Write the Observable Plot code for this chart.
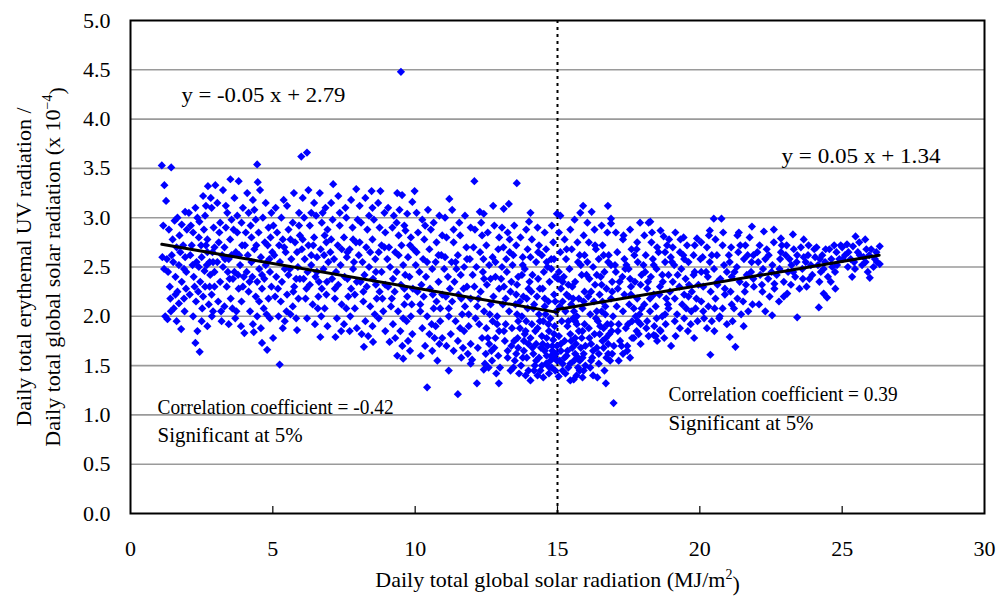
<!DOCTYPE html>
<html>
<head>
<meta charset="utf-8">
<script src="https://cdn.jsdelivr.net/npm/d3@7"></script>
<script src="https://cdn.jsdelivr.net/npm/@observablehq/plot@0.6"></script>
<style>
  html, body { margin: 0; padding: 0; background: #fff; }
</style>
</head>
<body>
<div id="chart"></div>
<script>
// ---- Data ----
const xTicks = [0, 5, 10, 15, 20, 25, 30];
const yTicks = [0, 0.5, 1, 1.5, 2, 2.5, 3, 3.5, 4, 4.5, 5];

const pointsA = [ // x 1 - 5
[1.10,3.53],[1.43,3.51],[1.19,3.33],[1.25,3.17],[1.12,2.60],[1.18,2.48],[1.30,1.97],[1.22,2.00],[1.40,2.18],[1.70,2.13],[1.90,2.05],[1.78,1.87],[1.55,2.97],[1.65,3.00],[1.80,2.93],[1.92,3.06],[1.35,2.88],[1.48,2.78],[1.62,2.70],[1.85,2.72],[1.50,2.55],[1.70,2.52],[1.92,2.60],[1.58,2.40],[1.80,2.35],[1.96,2.45],[1.38,2.30],[1.65,2.25],[1.45,2.62],[1.28,2.58],[1.75,2.65],[1.95,2.28],[1.52,2.08],[1.88,2.18],
[2.05,3.05],[2.28,3.10],[2.42,2.96],[2.55,3.22],[2.72,3.32],[2.98,3.33],[2.82,3.20],[2.62,3.02],[2.85,3.10],[2.20,2.85],[2.40,2.80],[2.70,2.78],[2.92,2.90],[2.10,2.62],[2.32,2.55],[2.50,2.60],[2.70,2.65],[2.90,2.55],[2.22,2.40],[2.45,2.35],[2.60,2.46],[2.80,2.42],[2.95,2.30],[2.08,2.22],[2.30,2.15],[2.55,2.20],[2.75,2.12],[2.90,2.05],[2.20,2.00],[2.50,1.95],[2.70,1.90],[2.86,2.00],[2.35,1.85],[2.65,2.72],[2.15,2.72],[2.28,1.73],[2.43,1.64],[2.40,2.50],[2.58,2.88],[2.78,2.55],[2.95,2.70],[2.12,2.92],[2.38,2.25],[2.62,2.30],[2.85,2.22],
[3.05,3.15],[3.25,3.28],[3.40,3.05],[3.51,3.39],[3.80,3.37],[3.65,3.20],[3.95,3.10],[3.15,2.95],[3.35,2.90],[3.55,2.98],[3.75,2.85],[3.90,2.95],[3.10,2.75],[3.30,2.70],[3.50,2.78],[3.70,2.65],[3.92,2.72],[3.05,2.55],[3.25,2.50],[3.45,2.58],[3.65,2.45],[3.85,2.52],[3.15,2.35],[3.38,2.30],[3.60,2.38],[3.80,2.28],[3.98,2.40],[3.08,2.15],[3.30,2.10],[3.52,2.18],[3.72,2.05],[3.90,2.15],[3.20,1.95],[3.45,1.92],[3.68,1.98],[3.88,1.90],[3.55,2.62],[3.22,2.62],[3.78,2.42],[3.42,2.45],
[4.00,1.83],[4.33,1.84],[4.62,1.73],[4.80,1.66],[4.45,3.54],[4.47,3.36],[4.10,3.25],[4.30,3.18],[4.55,3.28],[4.75,3.15],[4.95,3.05],[4.15,3.05],[4.40,2.98],[4.65,3.00],[4.85,2.90],[4.05,2.85],[4.25,2.80],[4.50,2.85],[4.72,2.75],[4.92,2.80],[4.12,2.62],[4.35,2.68],[4.58,2.60],[4.80,2.55],[4.98,2.65],[4.08,2.45],[4.28,2.40],[4.52,2.48],[4.70,2.38],[4.90,2.45],[4.15,2.25],[4.40,2.20],[4.62,2.28],[4.85,2.18],[4.20,2.05],[4.45,2.00],[4.68,2.08],[4.90,1.98],[4.30,1.92],[4.58,1.88],[4.25,2.55],[4.75,2.52],[4.45,2.35],[4.95,2.30]
];

const pointsB = [ // x 5 - 10
[5.24,1.51],[5.01,1.78],[5.85,1.86],[5.74,3.25],[6.00,3.62],[6.20,3.66],[6.67,1.79],[5.10,3.10],[5.30,3.00],[5.50,3.12],[5.70,2.95],[5.92,3.05],[5.15,2.85],[5.35,2.78],[5.55,2.88],[5.78,2.75],[5.95,2.82],[5.05,2.62],[5.25,2.55],[5.45,2.65],[5.65,2.58],[5.88,2.50],[5.12,2.40],[5.32,2.35],[5.55,2.42],[5.75,2.30],[5.95,2.38],[5.08,2.20],[5.28,2.15],[5.50,2.22],[5.70,2.10],[5.90,2.18],[5.20,2.00],[5.42,1.95],[5.62,2.02],[5.82,1.98],[5.35,1.88],[5.60,2.48],[5.40,2.70],[5.85,2.65],
[6.05,3.20],[6.25,3.28],[6.45,3.15],[6.65,3.25],[6.85,3.10],[6.10,3.00],[6.30,2.92],[6.52,3.02],[6.72,2.95],[6.92,2.88],[6.05,2.78],[6.25,2.72],[6.45,2.80],[6.68,2.68],[6.88,2.75],[6.12,2.58],[6.35,2.52],[6.55,2.60],[6.78,2.48],[6.95,2.55],[6.08,2.38],[6.30,2.32],[6.50,2.40],[6.72,2.28],[6.90,2.35],[6.15,2.18],[6.40,2.12],[6.60,2.20],[6.82,2.08],[6.20,1.98],[6.48,1.92],[6.70,2.00],[6.92,1.90],[6.35,2.62],[6.80,2.62],[6.55,2.45],
[7.12,3.34],[7.20,1.79],[7.93,3.29],[7.05,3.15],[7.30,3.22],[7.55,3.10],[7.75,3.18],[7.10,2.98],[7.35,2.92],[7.58,3.00],[7.80,2.90],[7.98,2.98],[7.05,2.78],[7.28,2.72],[7.50,2.80],[7.70,2.68],[7.92,2.75],[7.15,2.58],[7.38,2.52],[7.60,2.60],[7.82,2.48],[7.08,2.38],[7.30,2.32],[7.52,2.40],[7.75,2.28],[7.95,2.35],[7.18,2.18],[7.42,2.12],[7.65,2.20],[7.88,2.08],[7.25,1.98],[7.50,1.92],[7.72,2.00],[7.95,1.88],[7.40,1.85],[7.62,2.65],[7.85,2.55],
[8.47,3.27],[8.78,3.27],[8.20,1.69],[8.52,1.74],[8.05,3.12],[8.25,3.20],[8.50,3.10],[8.70,3.15],[8.92,3.05],[8.10,2.95],[8.32,2.88],[8.55,2.98],[8.75,2.90],[8.95,2.85],[8.05,2.75],[8.28,2.70],[8.50,2.78],[8.72,2.65],[8.92,2.70],[8.15,2.55],[8.38,2.50],[8.60,2.58],[8.82,2.45],[8.08,2.35],[8.30,2.30],[8.52,2.38],[8.75,2.25],[8.95,2.32],[8.18,2.15],[8.42,2.10],[8.65,2.18],[8.88,2.05],[8.25,1.95],[8.50,1.90],[8.72,1.98],[8.95,1.85],[8.35,1.80],[8.62,2.45],
[9.37,3.25],[9.54,3.23],[9.90,3.16],[9.98,3.27],[9.72,3.04],[9.66,2.87],[9.50,4.48],[9.10,1.74],[9.37,1.60],[9.58,1.57],[9.05,3.10],[9.25,3.02],[9.45,3.08],[9.20,2.90],[9.42,2.82],[9.62,2.92],[9.85,2.80],[9.08,2.70],[9.30,2.65],[9.52,2.72],[9.75,2.60],[9.95,2.68],[9.12,2.50],[9.35,2.45],[9.58,2.52],[9.80,2.40],[9.05,2.30],[9.28,2.25],[9.50,2.32],[9.72,2.20],[9.92,2.28],[9.15,2.10],[9.40,2.05],[9.62,2.12],[9.85,2.00],[9.22,1.92],[9.48,1.85],[9.70,1.95],[9.90,1.82],[9.30,1.78],[9.55,1.70],[9.82,1.65],[9.65,2.42]
];

const pointsC = [ // x 10 - 15
[10.42,1.28],[10.05,3.05],[10.25,2.98],[10.45,3.08],[10.65,2.95],[10.85,3.02],[10.10,2.85],[10.32,2.78],[10.55,2.88],[10.75,2.75],[10.95,2.82],[10.05,2.65],[10.28,2.58],[10.50,2.68],[10.72,2.55],[10.92,2.62],[10.15,2.45],[10.38,2.40],[10.60,2.48],[10.82,2.35],[10.08,2.25],[10.30,2.20],[10.52,2.28],[10.75,2.15],[10.95,2.22],[10.18,2.05],[10.42,2.00],[10.65,2.08],[10.88,1.95],[10.25,1.88],[10.50,1.82],[10.72,1.90],[10.95,1.78],[10.35,1.70],[10.60,1.65],[10.85,1.72],[10.20,1.60],[10.78,1.55],
[11.18,1.45],[11.50,1.21],[11.20,3.19],[11.05,3.00],[11.30,3.08],[11.55,2.95],[11.75,3.02],[11.95,2.90],[11.10,2.80],[11.35,2.75],[11.58,2.82],[11.80,2.70],[11.05,2.60],[11.28,2.55],[11.50,2.62],[11.72,2.50],[11.92,2.58],[11.15,2.40],[11.38,2.35],[11.60,2.42],[11.82,2.30],[11.08,2.20],[11.30,2.15],[11.52,2.22],[11.75,2.10],[11.95,2.18],[11.18,2.00],[11.42,1.95],[11.65,2.02],[11.88,1.90],[11.25,1.82],[11.50,1.75],[11.72,1.85],[11.95,1.72],[11.35,1.65],[11.62,1.58],[11.85,1.62],[11.10,1.70],[11.45,2.48],[11.70,2.28],
[12.08,3.37],[12.17,1.32],[12.41,1.46],[12.00,1.56],[12.27,3.06],[12.41,3.04],[12.74,3.12],[12.10,2.88],[12.32,2.95],[12.55,2.85],[12.78,2.92],[12.95,2.80],[12.05,2.70],[12.28,2.65],[12.50,2.72],[12.72,2.60],[12.92,2.68],[12.15,2.50],[12.38,2.45],[12.60,2.52],[12.82,2.40],[12.08,2.30],[12.30,2.25],[12.52,2.32],[12.75,2.20],[12.95,2.28],[12.18,2.10],[12.42,2.05],[12.65,2.12],[12.88,2.00],[12.25,1.92],[12.50,1.88],[12.72,1.95],[12.95,1.85],[12.35,1.78],[12.60,1.72],[12.82,1.78],[12.20,1.68],[12.48,1.62],[12.70,1.55],[12.92,1.60],[12.58,1.48],[12.85,1.42],[12.40,2.58],[12.65,2.38],
[13.11,3.09],[13.29,3.14],[13.57,3.35],[12.94,1.32],[14.05,1.35],[14.00,2.96],[13.05,2.90],[13.25,2.85],[13.48,2.92],[13.70,2.80],[13.90,2.88],[13.10,2.70],[13.32,2.65],[13.55,2.72],[13.78,2.60],[13.95,2.68],[13.05,2.50],[13.22,2.45],[13.42,2.52],[13.62,2.40],[13.85,2.48],[13.12,2.30],[13.35,2.25],[13.58,2.32],[13.80,2.20],[13.98,2.28],[13.08,2.12],[13.30,2.05],[13.52,2.12],[13.75,2.00],[13.95,2.08],[13.18,1.92],[13.40,1.88],[13.62,1.95],[13.85,1.82],[13.15,1.75],[13.38,1.70],[13.60,1.78],[13.82,1.65],[13.98,1.72],[13.25,1.58],[13.50,1.55],[13.72,1.50],[13.92,1.58],[13.35,1.45],[13.65,1.42],[13.88,1.40],[13.45,2.62],[13.68,2.15],[13.20,2.58],[13.90,1.95],[13.55,1.62],[13.75,2.42],
[14.05,3.05],[14.30,2.90],[14.55,2.85],[14.80,2.92],[14.98,3.04],[14.10,2.78],[14.35,2.72],[14.60,2.68],[14.85,2.75],[14.05,2.60],[14.25,2.55],[14.45,2.62],[14.65,2.50],[14.88,2.58],[14.12,2.42],[14.32,2.38],[14.52,2.45],[14.72,2.35],[14.92,2.40],[14.08,2.25],[14.28,2.20],[14.48,2.28],[14.68,2.15],[14.88,2.22],[14.15,2.08],[14.35,2.02],[14.55,2.10],[14.75,1.98],[14.95,2.05],[14.10,1.92],[14.30,1.88],[14.50,1.95],[14.70,1.85],[14.90,1.90],[14.05,1.78],[14.25,1.72],[14.45,1.80],[14.65,1.70],[14.85,1.76],[14.15,1.62],[14.35,1.58],[14.55,1.65],[14.75,1.55],[14.95,1.62],[14.20,1.50],[14.40,1.45],[14.60,1.52],[14.80,1.48],[14.98,1.55],[14.30,1.40],[14.70,1.42],[14.50,1.38],[14.62,2.55],[14.42,1.68],[14.82,1.65],[14.22,1.85],[14.78,2.48]
];

const pointsD = [ // x 15 - 20
[15.10,3.02],[15.04,1.39],[15.57,1.36],[15.67,1.40],[16.25,1.40],[16.97,1.12],[15.80,3.05],[15.90,3.12],[16.20,3.06],[15.60,2.98],[16.77,3.12],[16.88,2.99],[16.88,2.94],[15.05,2.85],[15.25,2.78],[15.45,2.88],[15.70,2.75],[15.92,2.82],[15.10,2.65],[15.30,2.58],[15.50,2.68],[15.72,2.55],[15.95,2.62],[15.05,2.45],[15.22,2.40],[15.42,2.48],[15.62,2.35],[15.85,2.42],[15.12,2.28],[15.32,2.22],[15.52,2.30],[15.75,2.18],[15.95,2.25],[15.08,2.10],[15.28,2.05],[15.48,2.12],[15.68,2.00],[15.88,2.08],[15.15,1.95],[15.35,1.90],[15.55,1.98],[15.75,1.85],[15.95,1.92],[15.05,1.80],[15.25,1.75],[15.45,1.82],[15.65,1.72],[15.85,1.78],[15.12,1.65],[15.32,1.60],[15.52,1.68],[15.72,1.58],[15.92,1.62],[15.18,1.52],[15.38,1.48],[15.58,1.55],[15.78,1.45],[15.98,1.50],[15.28,1.42],[15.45,1.35],[15.88,1.38],[15.40,2.20],[15.62,1.95],[15.82,2.52],[15.18,2.35],
[16.05,2.95],[16.30,2.88],[16.55,2.92],[16.75,2.85],[16.10,2.75],[16.35,2.68],[16.58,2.72],[16.80,2.62],[16.05,2.55],[16.25,2.50],[16.45,2.58],[16.65,2.45],[16.88,2.52],[16.12,2.38],[16.32,2.32],[16.52,2.40],[16.72,2.28],[16.92,2.35],[16.08,2.20],[16.28,2.15],[16.48,2.22],[16.68,2.10],[16.88,2.18],[16.15,2.02],[16.35,1.98],[16.55,2.05],[16.75,1.92],[16.95,2.00],[16.10,1.88],[16.30,1.82],[16.50,1.90],[16.70,1.78],[16.90,1.85],[16.18,1.72],[16.38,1.68],[16.58,1.75],[16.78,1.62],[16.98,1.70],[16.22,1.58],[16.45,1.52],[16.65,1.45],[16.85,1.55],[16.15,1.48],[16.70,1.32],[16.40,1.38],[16.62,2.62],[16.42,1.95],
[17.90,2.95],[18.20,2.95],[18.26,2.96],[17.05,2.85],[17.30,2.78],[17.55,2.88],[17.80,2.75],[17.10,2.65],[17.35,2.58],[17.60,2.68],[17.82,2.55],[17.05,2.45],[17.28,2.40],[17.50,2.48],[17.72,2.35],[17.95,2.42],[17.12,2.28],[17.35,2.22],[17.58,2.30],[17.80,2.18],[17.08,2.10],[17.30,2.05],[17.52,2.12],[17.75,2.00],[17.95,2.08],[17.15,1.92],[17.40,1.88],[17.62,1.95],[17.85,1.82],[17.20,1.75],[17.45,1.70],[17.68,1.78],[17.92,1.72],[17.30,1.62],[17.55,1.58],[17.15,1.55],[17.70,2.62],[17.42,2.52],
[18.38,1.81],[18.60,1.86],[18.99,1.70],[18.62,2.87],[18.73,2.81],[18.05,2.82],[18.30,2.75],[18.50,2.70],[18.85,2.72],[18.10,2.62],[18.35,2.58],[18.55,2.65],[18.78,2.55],[18.98,2.60],[18.08,2.45],[18.28,2.40],[18.48,2.48],[18.70,2.35],[18.90,2.42],[18.15,2.28],[18.38,2.22],[18.60,2.30],[18.82,2.18],[18.05,2.12],[18.25,2.05],[18.45,2.10],[18.68,2.00],[18.90,2.08],[18.15,1.95],[18.40,1.90],[18.80,1.92],[18.20,1.80],[18.50,1.75],[18.75,1.78],
[19.14,2.85],[19.43,2.80],[19.90,2.79],[19.05,2.70],[19.30,2.65],[19.55,2.72],[19.78,2.62],[19.10,2.52],[19.35,2.48],[19.60,2.55],[19.82,2.45],[19.05,2.35],[19.28,2.30],[19.50,2.38],[19.72,2.25],[19.95,2.32],[19.12,2.18],[19.38,2.12],[19.60,2.20],[19.85,2.08],[19.20,2.02],[19.45,1.98],[19.70,2.05],[19.92,1.95],[19.30,1.88],[19.58,1.85],[19.15,1.80],[19.80,1.78],[19.45,2.58]
];

const pointsE = [ // x 20 - 26.5
[20.49,2.99],[20.76,2.99],[20.35,2.87],[20.37,1.61],[20.51,1.85],[20.05,2.75],[20.25,2.70],[20.55,2.78],[20.80,2.72],[20.10,2.60],[20.35,2.55],[20.60,2.62],[20.85,2.52],[20.05,2.45],[20.28,2.40],[20.50,2.48],[20.72,2.38],[20.95,2.45],[20.12,2.30],[20.38,2.25],[20.62,2.32],[20.88,2.22],[20.05,2.15],[20.30,2.10],[20.55,2.18],[20.80,2.08],[20.15,1.98],[20.42,1.95],[20.70,2.00],[20.95,1.92],[20.25,1.88],
[21.05,1.79],[21.25,1.69],[21.54,1.90],[21.83,2.91],[21.37,2.85],[21.75,2.80],[22.25,2.86],[22.60,2.88],[22.85,2.79],[21.10,2.70],[21.35,2.65],[21.60,2.72],[21.88,2.62],[21.05,2.55],[21.30,2.50],[21.55,2.58],[21.80,2.45],[21.12,2.40],[21.40,2.35],[21.65,2.42],[21.90,2.30],[21.08,2.25],[21.32,2.18],[21.58,2.25],[21.85,2.12],[21.20,2.08],[21.45,2.02],[21.70,2.05],[21.15,1.95],
[22.30,2.05],[22.54,2.01],[22.62,2.33],[22.95,2.20],[22.10,2.72],[22.35,2.68],[22.60,2.75],[22.85,2.65],[22.05,2.55],[22.30,2.58],[22.55,2.52],[22.80,2.48],[22.12,2.42],[22.40,2.38],[22.70,2.42],[22.95,2.35],[22.20,2.25],[22.45,2.20],[22.78,2.15],[22.08,2.12],
[23.07,2.23],[23.27,2.83],[23.42,1.99],[23.05,2.72],[23.30,2.68],[23.55,2.70],[23.80,2.62],[23.15,2.58],[23.40,2.55],[23.65,2.60],[23.90,2.52],[23.10,2.45],[23.35,2.40],[23.60,2.48],[23.85,2.38],[23.20,2.32],[23.50,2.28],[23.75,2.30],[23.95,2.42],[23.65,2.78],
[24.10,2.70],[24.18,2.09],[24.35,2.23],[24.47,2.19],[24.76,2.28],[24.05,2.60],[24.30,2.62],[24.55,2.68],[24.80,2.65],[24.15,2.52],[24.40,2.55],[24.65,2.50],[24.90,2.58],[24.25,2.45],[24.50,2.40],[24.75,2.45],[24.95,2.72],[24.60,2.35],[24.20,2.35],
[25.00,2.70],[25.17,2.73],[25.38,2.71],[25.47,2.81],[25.81,2.78],[25.97,2.39],[26.32,2.71],[26.32,2.53],[25.10,2.62],[25.30,2.58],[25.55,2.65],[25.75,2.60],[25.95,2.62],[26.15,2.58],[25.20,2.50],[25.45,2.48],[25.70,2.52],[25.90,2.45],[26.10,2.50],[25.60,2.75],[25.35,2.40],[26.20,2.65],[25.85,2.68]
];

const pointsF = [ // extra points in the crowded cloud, x 1 - 10
[1.15,2.92],[1.32,2.45],[1.58,2.22],[1.72,2.82],[1.88,2.48],[1.42,2.05],[1.62,1.95],[1.98,2.88],
[2.18,2.52],[2.48,2.72],[2.68,2.52],[2.88,2.65],[2.25,2.30],[2.52,2.08],[2.78,2.30],[2.35,3.00],[2.65,3.12],[2.95,2.45],
[3.12,2.85],[3.32,2.58],[3.48,2.38],[3.62,2.88],[3.82,2.62],[3.95,2.30],[3.18,2.05],[3.58,2.08],[3.75,3.02],[3.35,3.12],
[4.02,2.72],[4.22,2.92],[4.42,2.72],[4.62,2.42],[4.82,2.72],[4.18,2.35],[4.52,2.15],[4.78,2.02],[4.35,3.08],[4.88,2.58],
[5.02,2.92],[5.22,2.72],[5.42,2.48],[5.62,2.78],[5.82,2.38],[5.18,2.28],[5.48,2.05],[5.72,2.25],[5.38,3.18],[5.92,2.92],
[6.02,2.68],[6.22,2.45],[6.42,2.72],[6.62,2.35],[6.82,2.82],[6.18,2.28],[6.58,2.08],[6.88,2.22],[6.35,3.05],[6.75,3.05],
[7.02,2.65],[7.22,2.45],[7.42,2.68],[7.62,2.38],[7.82,2.78],[7.18,2.28],[7.58,2.08],[7.88,2.22],[7.35,3.05],[7.70,1.85],
[8.02,2.62],[8.22,2.42],[8.42,2.65],[8.62,2.32],[8.82,2.72],[8.18,2.25],[8.58,2.02],[8.85,2.18],[8.38,3.02],[8.12,1.82],
[9.02,2.58],[9.22,2.38],[9.42,2.62],[9.62,2.28],[9.82,2.72],[9.18,2.18],[9.58,1.98],[9.88,2.12],[9.35,2.95],[9.75,1.75]
];

const pointsG = [ // extra points in the crowded cloud, x 10 - 26.5
[10.02,2.52],[10.22,2.32],[10.42,2.55],[10.62,2.22],[10.82,2.62],[10.18,2.12],[10.58,1.92],[10.88,2.08],[10.35,2.92],[10.68,1.78],
[11.02,2.48],[11.22,2.28],[11.42,2.55],[11.62,2.18],[11.82,2.58],[11.18,2.08],[11.58,1.88],[11.88,2.02],[11.35,2.88],[11.68,1.68],[11.95,1.52],
[12.02,2.42],[12.22,2.18],[12.42,2.38],[12.62,2.02],[12.82,2.55],[12.12,1.98],[12.55,1.78],[12.88,1.92],[12.35,2.82],[12.68,1.65],[12.45,1.52],[12.78,1.68],[12.98,1.48],
[13.02,2.38],[13.18,2.18],[13.38,2.35],[13.58,2.02],[13.78,2.52],[13.12,1.85],[13.48,1.75],[13.88,1.85],[13.32,2.78],[13.62,1.68],[13.45,1.48],[13.78,1.58],[13.98,1.45],[13.25,1.65],[13.68,1.88],[13.92,2.18],[13.55,2.22],[13.82,1.75],
[14.02,2.35],[14.18,2.12],[14.38,2.28],[14.58,2.02],[14.78,2.58],[14.12,1.68],[14.48,1.72],[14.88,1.82],[14.32,2.65],[14.62,1.60],[14.45,1.50],[14.78,1.60],[14.92,1.45],[14.25,1.55],[14.68,1.92],[14.92,2.15],[14.55,2.18],[14.82,1.70],[14.38,1.95],[14.62,1.78],[14.18,1.45],[14.72,1.48],[14.98,1.70],[14.88,1.58],
[15.02,2.38],[15.18,2.15],[15.38,2.32],[15.58,2.05],[15.78,2.62],[15.12,1.72],[15.48,1.75],[15.88,1.85],[15.32,2.68],[15.62,1.62],[15.45,1.52],[15.78,1.55],[15.92,1.45],[15.25,1.58],[15.68,1.92],[15.92,2.15],[15.55,2.18],[15.82,1.68],[15.38,1.95],[15.62,1.78],[15.18,1.45],[15.72,1.48],[15.98,1.70],[15.88,1.58],[15.08,1.55],[15.35,1.65],
[16.02,2.42],[16.18,2.25],[16.38,2.42],[16.58,2.15],[16.78,2.55],[16.12,1.78],[16.48,1.82],[16.88,1.92],[16.32,2.72],[16.62,1.68],[16.45,1.62],[16.78,1.72],[16.92,1.62],[16.25,1.65],[16.68,2.02],[16.92,2.25],[16.55,2.32],[16.82,1.82],[16.38,2.05],[16.62,1.88],[16.18,1.55],[16.72,1.58],
[17.02,2.52],[17.18,2.35],[17.38,2.48],[17.58,2.22],[17.78,2.68],[17.12,1.85],[17.48,1.92],[17.88,2.02],[17.32,2.82],[17.62,1.78],[17.45,1.65],[17.78,1.85],[17.92,1.92],[17.25,1.70],[17.68,2.08],[17.92,2.32],[17.55,2.38],[17.82,1.95],
[18.02,2.52],[18.18,2.35],[18.38,2.52],[18.58,2.22],[18.78,2.65],[18.12,1.88],[18.48,1.98],[18.88,2.12],[18.32,2.85],[18.62,1.85],[18.45,1.80],[18.78,2.02],[18.95,2.25],[18.25,2.18],[18.68,2.42],[18.92,2.78],
[19.02,2.55],[19.22,2.42],[19.42,2.62],[19.62,2.32],[19.82,2.72],[19.12,1.95],[19.52,2.08],[19.88,2.18],[19.32,2.78],[19.68,1.92],[19.45,2.22],[19.78,2.42],
[20.02,2.58],[20.22,2.45],[20.42,2.62],[20.62,2.35],[20.82,2.85],[20.12,2.05],[20.52,2.08],[20.88,2.28],[20.32,2.82],[20.68,1.98],
[21.02,2.62],[21.22,2.45],[21.42,2.72],[21.62,2.32],[21.82,2.55],[21.12,2.12],[21.52,2.15],[21.88,2.38],[21.32,2.82],[21.68,2.62],
[22.02,2.65],[22.22,2.48],[22.42,2.62],[22.62,2.28],[22.82,2.58],[22.18,2.32],[22.52,2.45],[22.88,2.72],
[23.02,2.62],[23.22,2.52],[23.42,2.62],[23.62,2.38],[23.82,2.72],[23.28,2.45],[23.72,2.55],
[24.02,2.68],[24.22,2.58],[24.42,2.68],[24.62,2.58],[24.82,2.52],[24.35,2.48],[24.72,2.72],
[25.02,2.58],[25.22,2.65],[25.42,2.55],[25.62,2.62],[25.82,2.55],[26.02,2.68],[26.22,2.55]
];

// regression segments (end points)
const leftLine = [[1.1, 2.73], [15, 2.04]];
const rightLine = [[15, 2.07], [26.3, 2.62]];
const splitX = [15];

const annotations = [
  {x: 1.79, y: 4.24, text: "y = -0.05 x + 2.79", w: 164},
  {x: 22.87, y: 3.63, text: "y = 0.05 x + 1.34", w: 159},
  {x: 0.95, y: 1.085, text: "Correlation coefficient = -0.42", w: 236},
  {x: 0.95, y: 0.80, text: "Significant at 5%", w: 145},
  {x: 18.9, y: 1.217, text: "Correlation coefficient = 0.39", w: 229},
  {x: 18.9, y: 0.923, text: "Significant at 5%", w: 145}
];

const xTitle = "Daily total global solar radiation (MJ/m2)";
const yTitle1 = "Daily total erythemal UV radiation /";
const yTitle2 = "Daily total global solar radiation (x 10-4)";

// ---- Build ----
const points = [...pointsA, ...pointsB, ...pointsC, ...pointsD, ...pointsE, ...pointsF, ...pointsG]
  .map(([x, y]) => ({x, y}));
const toXY = arr => arr.map(([x, y]) => ({x, y}));

const plot = Plot.plot({
  width: 997,
  height: 603,
  marginLeft: 130,
  marginRight: 13,
  marginTop: 20,
  marginBottom: 90,
  style: {fontFamily: "'Liberation Serif', 'Times New Roman', serif", fontSize: "22px", background: "#fff", color: "#000"},
  x: {domain: [0, 30], ticks: xTicks},
  y: {domain: [0, 5], ticks: yTicks},
  marks: [
    Plot.ruleY(yTicks.slice(1, -1), {stroke: "#9a9a9a", strokeWidth: 1.6}),
    Plot.ruleX(xTicks.slice(1, -1), {y1: 0, y2: 0.07, stroke: "#000", strokeWidth: 1.2}),
    Plot.axisX({ticks: xTicks, tickSize: 0, tickPadding: 27, label: null, fontSize: 22, tickFormat: d3.format("d")}),
    Plot.axisY({ticks: yTicks, tickSize: 0, tickPadding: 20, label: null, fontSize: 22, tickFormat: d3.format(".1f")}),
    Plot.ruleX(splitX, {stroke: "#000", strokeWidth: 2, strokeDasharray: "3,4"}),
    Plot.dot(points, {x: "x", y: "y", symbol: "diamond2", r: 3.7, fill: "#0000ff", stroke: null}),
    Plot.line(toXY(leftLine), {x: "x", y: "y", stroke: "#000", strokeWidth: 3}),
    Plot.line(toXY(rightLine), {x: "x", y: "y", stroke: "#000", strokeWidth: 3}),
    Plot.text(annotations, {x: "x", y: "y", text: "text", textAnchor: "start", fontSize: 22, fill: "#000"}),
    Plot.text([xTitle], {frameAnchor: "bottom", dy: 73, text: d => d, fontSize: 22, fill: "#000"}),
    Plot.text([yTitle1], {frameAnchor: "left", textAnchor: "middle", dx: -107, rotate: -90, text: d => d, fontSize: 22, fill: "#000"}),
    Plot.text([yTitle2], {frameAnchor: "left", textAnchor: "middle", dx: -78, rotate: -90, text: d => d, fontSize: 22, fill: "#000"}),
    Plot.frame({stroke: "#000", strokeWidth: 2})
  ]
});

// fit annotation widths to the reference
const widthOf = new Map(annotations.map(a => [a.text, a.w]));
d3.select(plot).selectAll("text").each(function () {
  const s = this.textContent;
  const g = this.closest("g");
  if (widthOf.has(s) && g && g.getAttribute("aria-label") === "text") {
    this.setAttribute("textLength", widthOf.get(s));
    this.setAttribute("lengthAdjust", "spacingAndGlyphs");
  }
});

// superscripts
d3.select(plot).selectAll("text").each(function () {
  const t = d3.select(this);
  const s = t.text();
  const rules = [["(MJ/m2)", "(MJ/m", "2", ")"], ["(x 10-4)", "(x 10", "\u22124", ")"]];
  for (const [key, a, sup, b] of rules) {
    if (s.endsWith(key)) {
      const pre = s.slice(0, s.length - key.length) + a;
      const node = t.select("tspan").empty() ? t : t.select("tspan");
      node.text(null);
      node.append("tspan").text(pre);
      node.append("tspan").attr("dy", "-0.55em").attr("font-size", "14px").text(sup);
      node.append("tspan").attr("dy", "0.55em").text(b);
    }
  }
});

document.getElementById("chart").appendChild(plot);
</script>
</body>
</html>
